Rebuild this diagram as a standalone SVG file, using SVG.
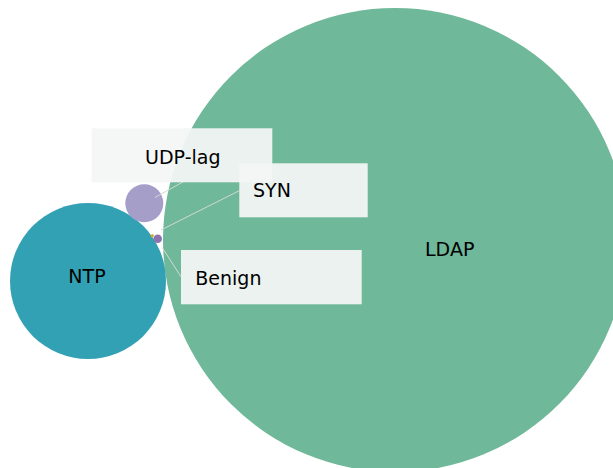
<svg xmlns="http://www.w3.org/2000/svg" width="613" height="468" viewBox="0 0 613 468">
<style>
text{font-family:"DejaVu Sans",sans-serif;font-size:19px;fill:#000}
.box{fill:#f4f6f5;fill-opacity:0.93}
.lead{stroke:#d4d8d6;stroke-width:1;fill:none}
</style>
<rect width="613" height="468" fill="#ffffff"/>
<g id="ldap"><circle cx="395" cy="240" r="232" fill="#6fb899"/><text x="449.7" y="256" text-anchor="middle">LDAP</text></g>
<g id="ntp"><circle cx="88" cy="281" r="78" fill="#33a1b4"/><text x="87" y="283" text-anchor="middle">NTP</text></g>
<g id="udp-lag-bubble"><circle cx="144.3" cy="203.3" r="19" fill="#a59ec8"/></g>
<g id="syn-bubble"><circle cx="152.3" cy="235.7" r="1.6" fill="#d4b02a"/></g>
<g id="benign-bubble"><circle cx="157.7" cy="238.7" r="4.3" fill="#8c73b0"/></g>
<g id="connectors">
<line class="lead" x1="155" y1="197.5" x2="183.3" y2="181.7"/>
<line class="lead" x1="161" y1="230" x2="239.3" y2="190.7"/>
<line class="lead" x1="162.3" y1="247.7" x2="181" y2="276.7"/>
</g>
<g id="udp-lag-label"><rect class="box" x="91.7" y="128.3" width="180.6" height="54"/><text x="182.8" y="164" text-anchor="middle">UDP-lag</text></g>
<g id="syn-label"><rect class="box" x="239.3" y="163.3" width="128.4" height="54"/><text x="253" y="197.3">SYN</text></g>
<g id="benign-label"><rect class="box" x="181" y="250" width="180.7" height="54.3"/><text x="195.3" y="284.7">Benign</text></g>
</svg>
